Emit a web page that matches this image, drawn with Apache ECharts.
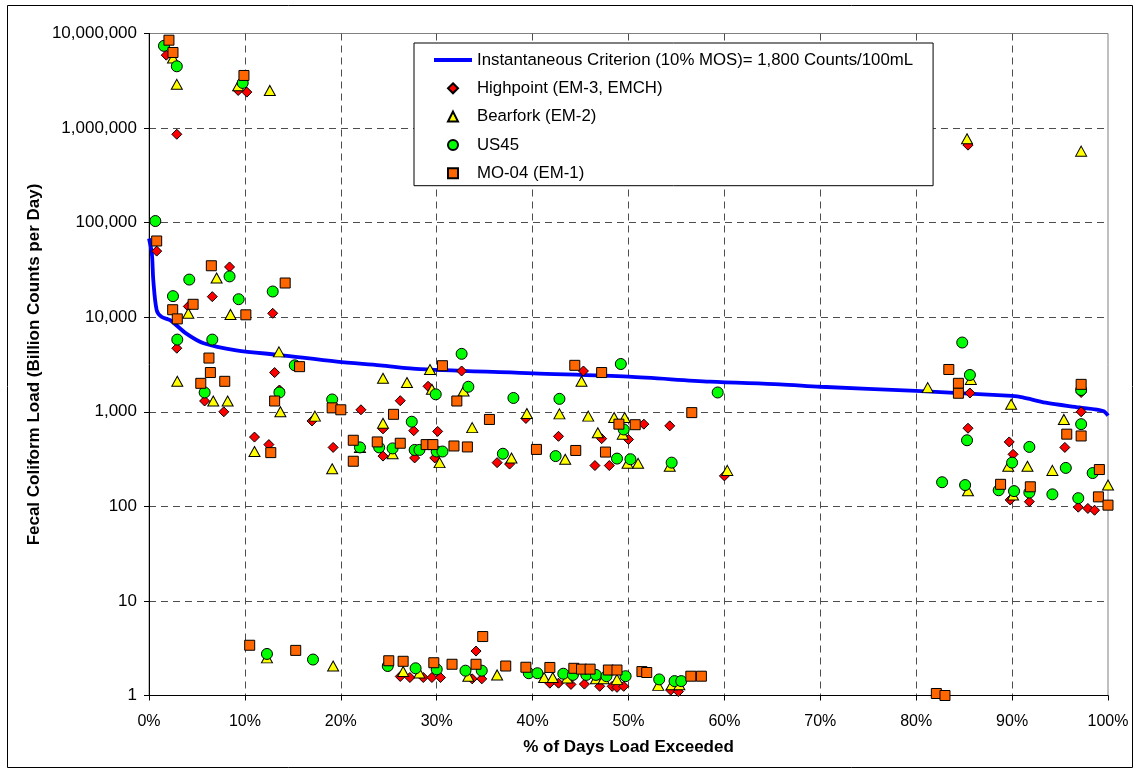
<!DOCTYPE html>
<html>
<head>
<meta charset="utf-8">
<script src="https://cdn.jsdelivr.net/npm/echarts@6/dist/echarts.min.js"></script>
<style>
  html, body { margin: 0; padding: 0; background: #fff; }
  #chart { width: 1137px; height: 773px; }
</style>
</head>
<body>
<div id="chart"></div>
<script>
// Load duration curve: % of days exceeded vs. load (billion counts/day)
const xTicks = [0, 10, 20, 30, 40, 50, 60, 70, 80, 90, 100];
const yTicks = [1, 10, 100, 1000, 10000, 100000, 1000000, 10000000];

// Instantaneous criterion curve
const criterionPct = [0, 0.3, 0.45, 0.8, 1.3, 2.2, 3.9, 5.7, 9.1, 13.7, 19.6, 24.1, 28.3, 40.1, 50, 58.5, 65.8, 70, 80, 90, 91.1, 93.5, 97, 99.5, 100];
const criterionLoad = [68000, 47000, 24500, 11900, 10100, 9300, 6700, 5300, 4470, 3980, 3390, 3100, 2820, 2550, 2350, 2080, 1950, 1840, 1660, 1470, 1420, 1250, 1110, 1020, 910];

// Monitoring stations: [% of days exceeded, load]
const highpoint = [
  [1.8, 5900000], [2.9, 860000], [9.3, 2500000], [10.2, 2400000], [0.8, 50000], [2.9, 4700],
  [4.1, 13000], [8.4, 34000], [6.6, 16500], [12.9, 11000], [13.1, 2600], [5.8, 1300],
  [7.8, 1000], [11, 540], [12.5, 450], [13.6, 1700], [17, 800], [19.2, 420], [22.1, 1050],
  [24.4, 660], [24.4, 340], [26.2, 1310], [27.6, 630], [27.7, 325], [29.1, 1860], [30.1, 620],
  [29.8, 325], [32.6, 2700], [36.3, 290], [37.6, 280], [39.3, 850], [42.7, 550], [45.3, 2700],
  [46.5, 270], [47.2, 520], [48, 270], [50, 510], [51.6, 740], [54.3, 710], [60, 210],
  [85.4, 660000], [85.6, 1580], [85.4, 670], [89.7, 480], [90.1, 355], [89.8, 117], [91.8, 112],
  [95.5, 420], [97.2, 1000], [97.2, 1600], [96.9, 98], [97.9, 95], [98.6, 91],
  [26.2, 1.59], [27.2, 1.55], [28.6, 1.55], [29.5, 1.55], [30.4, 1.55], [34.1, 2.95], [33.7, 1.5],
  [34.7, 1.5], [41.8, 1.35], [42.7, 1.35], [44, 1.31], [45.4, 1.32], [47, 1.25], [48.3, 1.25],
  [48.8, 1.22], [49.5, 1.25], [54.4, 1.14], [55.2, 1.1]
];
const bearfork = [
  [2.5, 5500000], [2.9, 2900000], [9.3, 2800000], [12.6, 2500000], [7.05, 26000], [4.1, 11000],
  [8.5, 10700], [13.55, 4300], [2.95, 2100], [6.7, 1300], [8.2, 1300], [11, 380], [13.7, 1000],
  [17.3, 900], [19.1, 250], [22, 420], [24.4, 2260], [26.9, 2040], [29.3, 2800], [29.5, 1730],
  [32.8, 1660], [24.4, 755], [25.4, 360], [30.3, 290], [33.7, 680], [37.8, 325], [39.4, 960],
  [42.8, 950], [43.4, 315], [45.1, 2100], [45.8, 900], [46.8, 600], [48.5, 870], [49.6, 870],
  [49.4, 580], [49.9, 285], [51, 285], [54.3, 265], [60.3, 240], [81.2, 1800], [85.7, 2200],
  [85.3, 770000], [97.2, 570000], [89.9, 1200], [95.4, 830], [89.6, 265], [91.6, 265], [94.2, 240],
  [85.4, 146], [90.1, 132], [100, 168],
  [12.3, 2.5], [19.2, 2.05], [26.5, 1.79], [28.2, 1.73], [33.3, 1.6], [36.3, 1.65], [41.2, 1.55],
  [42.1, 1.55], [43.6, 1.53], [46.6, 1.5], [47.4, 1.5], [48.8, 1.48], [53.1, 1.28], [54.5, 1.3],
  [55.3, 1.3]
];
const us45 = [
  [1.56, 7400000], [2.9, 4500000], [9.77, 3000000], [0.66, 104000], [4.2, 25000], [8.4, 27000],
  [12.9, 18700], [2.5, 16700], [9.35, 15500], [2.95, 5800], [6.6, 5800], [15.2, 3100], [5.8, 1600],
  [13.6, 1600], [19.1, 1350], [22, 420], [24, 420], [32.6, 4100], [29.9, 1530], [33.3, 1840],
  [27.4, 785], [25.4, 410], [27.7, 395], [28.2, 395], [30, 380], [30.6, 380], [36.9, 360],
  [38, 1400], [42.8, 1370], [42.4, 340], [48.8, 320], [50.2, 315], [49.2, 3200], [49.5, 650],
  [54.5, 290], [59.3, 1600], [84.8, 5400], [85.6, 2450], [85.3, 500], [91.8, 425], [90, 290],
  [95.6, 255], [98.4, 225], [82.7, 180], [85.1, 168], [88.6, 148], [90.2, 145], [91.8, 140],
  [94.2, 134], [96.9, 122], [97.2, 740], [97.2, 1700],
  [12.3, 2.75], [17.1, 2.4], [24.9, 2.05], [27.8, 1.94], [30, 1.89], [33, 1.83], [34.7, 1.83],
  [39.6, 1.72], [40.5, 1.72], [43.2, 1.7], [44.2, 1.65], [45.6, 1.65], [46.6, 1.65], [47.7, 1.6],
  [49.7, 1.6], [53.2, 1.48], [54.8, 1.42], [55.5, 1.42]
];
const mo04 = [
  [2.08, 8500000], [2.5, 6300000], [9.9, 3600000], [0.8, 64000], [6.5, 35000], [14.2, 23000],
  [4.6, 13700], [2.47, 12000], [10.1, 10600], [2.95, 9600], [6.25, 3700], [15.7, 3000],
  [6.4, 2600], [5.4, 2000], [7.9, 2100], [12.7, 370], [13.1, 1300], [19.1, 1100], [20, 1050],
  [21.3, 500], [21.3, 300], [23.8, 480], [25.5, 940], [26.2, 465], [28.9, 450], [29.6, 450],
  [30.6, 3070], [32.1, 1300], [31.8, 435], [33.2, 425], [35.5, 830], [40.4, 400], [44.4, 3100],
  [44.5, 390], [47.2, 2600], [47.6, 375], [49, 740], [50.7, 730], [56.6, 980], [83.4, 2800],
  [84.4, 2000], [84.4, 1570], [97.2, 1950], [95.7, 580], [97.2, 555], [99.1, 245], [88.8, 171],
  [91.9, 161], [99, 126], [100, 103],
  [10.5, 3.4], [15.3, 3.0], [25, 2.33], [26.5, 2.3], [29.7, 2.22], [31.6, 2.14], [34.8, 4.2],
  [34.1, 2.14], [37.2, 2.05], [39.3, 1.99], [41.8, 1.98], [44.3, 1.94], [45.1, 1.9], [46, 1.9],
  [47.9, 1.86], [48.8, 1.86], [51.4, 1.79], [51.9, 1.75], [56.5, 1.6], [57.6, 1.6], [82.1, 1.05],
  [83, 1.0]
];

const FONT = '"Liberation Sans", Arial, sans-serif';
const chart = echarts.init(document.getElementById('chart'), null, { renderer: 'canvas' });

function fmtThousands(v) {
  return Math.round(v).toString().replace(/\B(?=(\d{3})+(?!\d))/g, ',');
}

function scatter(name, data, symbol, size, color) {
  return {
    name, type: 'scatter', data, symbol, symbolSize: size,
    itemStyle: { color, borderColor: '#000', borderWidth: 1, opacity: 1 },
    emphasis: { disabled: true }, animation: false
  };
}

const LINE_NAME = 'Instantaneous Criterion (10% MOS)= 1,800 Counts/100mL';
const gridDash = { color: '#4d4d4d', type: [7, 5], width: 1 };

chart.setOption({
  animation: false,
  backgroundColor: '#fff',
  textStyle: { fontFamily: FONT },
  grid: { left: 149, right: 29, top: 33.5, bottom: 77.5, show: true, borderColor: '#808080', borderWidth: 1, backgroundColor: 'transparent' },
  xAxis: {
    type: 'value', min: 0, max: 100, interval: 10,
    axisLine: { show: true, onZero: false, lineStyle: { color: '#000', width: 1 } },
    axisTick: { show: true, inside: false, length: 5, lineStyle: { color: '#000' } },
    axisLabel: { margin: 18, color: '#000', fontSize: 16, fontFamily: FONT, formatter: '{value}%' },
    splitLine: { show: true, showMinLine: false, showMaxLine: false, lineStyle: gridDash }
  },
  yAxis: {
    type: 'log', logBase: 10, min: 1, max: 10000000,
    axisLine: { show: true, lineStyle: { color: '#000', width: 1 } },
    axisTick: { show: true, inside: false, length: 5, lineStyle: { color: '#000' } },
    axisLabel: { margin: 12, color: '#000', fontSize: 17, fontFamily: FONT, formatter: v => fmtThousands(v) },
    splitLine: { show: true, showMinLine: false, showMaxLine: false, lineStyle: gridDash }
  },
  legend: {
    orient: 'vertical', left: 414, top: 43,
    padding: [8.5, 20, 4, 20], itemGap: 11.3, itemWidth: 38, itemHeight: 10,
    symbolKeepAspect: true,
    backgroundColor: '#fff', borderColor: '#000', borderWidth: 1,
    textStyle: { fontSize: 16.8, color: '#000', fontFamily: FONT },
    data: [
      { name: LINE_NAME, icon: 'path://M0,0L38,0L38,4L0,4Z', itemStyle: { color: '#0000FF', borderWidth: 0 } },
      { name: 'Highpoint (EM-3, EMCH)', icon: 'path://M0,-1L1,0L0,1L-1,0Z' },
      { name: 'Bearfork (EM-2)', icon: 'path://M0,-1L1,1L-1,1Z' },
      { name: 'US45', icon: 'circle' },
      { name: 'MO-04 (EM-1)', icon: 'path://M0,0L10,0L10,10L0,10Z' }
    ]
  },
  series: [
    {
      name: LINE_NAME, type: 'line',
      data: criterionPct.map((p, i) => [p, criterionLoad[i]]),
      showSymbol: false, smooth: 0.3, lineStyle: { color: '#0000FF', width: 3.8 },
      itemStyle: { color: '#0000FF' }, emphasis: { disabled: true }, z: 1
    },
    scatter('Highpoint (EM-3, EMCH)', highpoint, 'diamond', 10, '#FF0000'),
    scatter('Bearfork (EM-2)', bearfork, 'triangle', [11, 10], '#FFFF00'),
    scatter('US45', us45, 'circle', 11, '#00FF00'),
    scatter('MO-04 (EM-1)', mo04, 'rect', 10, '#FF6600')
  ],
  graphic: [
    { type: 'rect', shape: { x: 7.5, y: 5.5, width: 1125, height: 762 }, style: { fill: 'none', stroke: '#000', lineWidth: 1 }, silent: true, z: -10 },
    { type: 'text', style: { text: '% of Days Load Exceeded', x: 628.5, y: 747, align: 'center', verticalAlign: 'middle', font: 'bold 17px ' + FONT, fill: '#000' } },
    { type: 'text', rotation: Math.PI / 2, x: 34, y: 364.5, style: { text: 'Fecal Coliform Load (Billion Counts per Day)', x: 0, y: 0, align: 'center', verticalAlign: 'middle', font: 'bold 17px ' + FONT, fill: '#000' } }
  ]
});
</script>
</body>
</html>
